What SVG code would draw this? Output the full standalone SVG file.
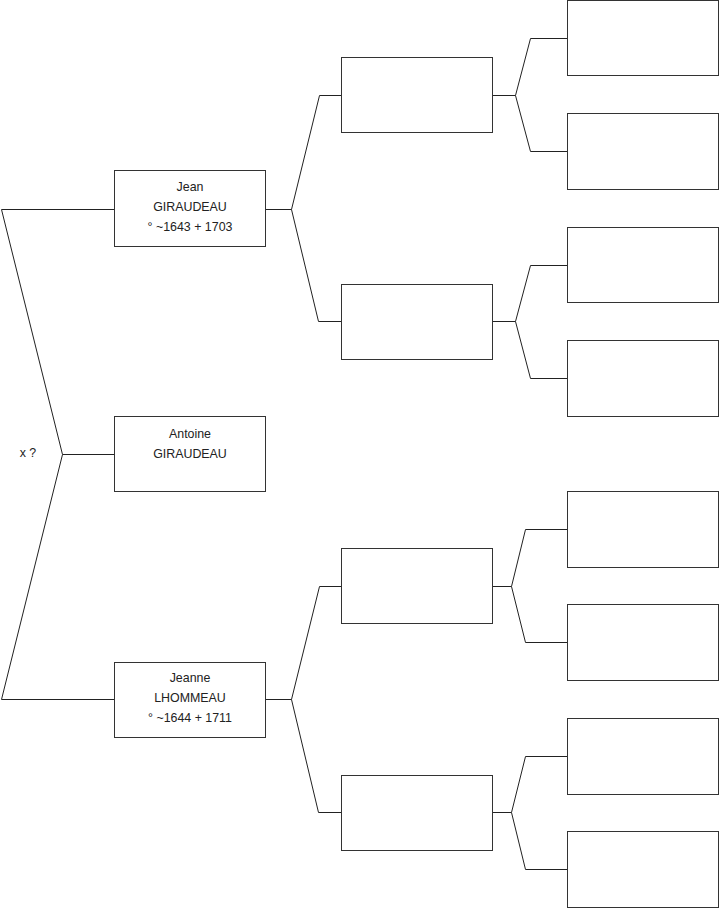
<svg xmlns="http://www.w3.org/2000/svg" width="719" height="908" viewBox="0 0 719 908">
<style>
.box{fill:#fff;stroke:#333;stroke-width:1}
.ln{fill:none;stroke:#222;stroke-width:1}
text{font-family:"Liberation Sans",Arial,sans-serif;font-size:12.4px;fill:#222;text-anchor:middle}
</style>
<rect width="719" height="908" fill="#fff"/>
<g id="connectors" class="ln">
<polyline points="114,209.5 1.5,209.5 62.5,454.5 1.5,699.5 114,699.5"/>
<line x1="62.5" y1="454.5" x2="114" y2="454.5"/>
<polyline points="265,209.5 291.5,209.5"/>
<polyline points="341,95.5 319.5,95.5 291.5,209.5 318.5,321.5 341,321.5"/>
<polyline points="265,699.5 291.5,699.5"/>
<polyline points="341,586.5 319.5,586.5 291.5,699.5 318.5,812.5 341,812.5"/>
<polyline points="492,95.5 515.5,95.5"/>
<polyline points="567,38.5 530.5,38.5 515.5,95.5 530.5,151.5 567,151.5"/>
<polyline points="492,321.5 515.5,321.5"/>
<polyline points="567,265.5 530.5,265.5 515.5,321.5 530.5,378.5 567,378.5"/>
<polyline points="492,586.5 511.5,586.5"/>
<polyline points="567,529.5 525.5,529.5 511.5,586.5 525.5,642.5 567,642.5"/>
<polyline points="492,812.5 511.5,812.5"/>
<polyline points="567,756.5 525.5,756.5 511.5,812.5 525.5,869.5 567,869.5"/>
</g>
<text x="28" y="456.5">x ?</text>
<g id="jean"><rect class="box" x="114.5" y="170.5" width="151" height="76"/>
<text x="190" y="191">Jean</text><text x="190" y="211">GIRAUDEAU</text><text x="190" y="231">° ~1643 + 1703</text></g>
<g id="antoine"><rect class="box" x="114.5" y="416.5" width="151" height="75"/>
<text x="190" y="437.5">Antoine</text><text x="190" y="457.5">GIRAUDEAU</text></g>
<g id="jeanne"><rect class="box" x="114.5" y="662.5" width="151" height="75"/>
<text x="190" y="681.5">Jeanne</text><text x="190" y="701.5">LHOMMEAU</text><text x="190" y="721.5">° ~1644 + 1711</text></g>
<g id="g2a"><rect class="box" x="341.5" y="57.5" width="151" height="75"/></g>
<g id="g2b"><rect class="box" x="341.5" y="284.5" width="151" height="75"/></g>
<g id="g2c"><rect class="box" x="341.5" y="548.5" width="151" height="75"/></g>
<g id="g2d"><rect class="box" x="341.5" y="775.5" width="151" height="75"/></g>
<g id="g3a"><rect class="box" x="567.5" y="0.5" width="151" height="75"/></g>
<g id="g3b"><rect class="box" x="567.5" y="113.5" width="151" height="76"/></g>
<g id="g3c"><rect class="box" x="567.5" y="227.5" width="151" height="75"/></g>
<g id="g3d"><rect class="box" x="567.5" y="340.5" width="151" height="76"/></g>
<g id="g3e"><rect class="box" x="567.5" y="491.5" width="151" height="76"/></g>
<g id="g3f"><rect class="box" x="567.5" y="604.5" width="151" height="76"/></g>
<g id="g3g"><rect class="box" x="567.5" y="718.5" width="151" height="76"/></g>
<g id="g3h"><rect class="box" x="567.5" y="831.5" width="151" height="76"/></g>
</svg>
